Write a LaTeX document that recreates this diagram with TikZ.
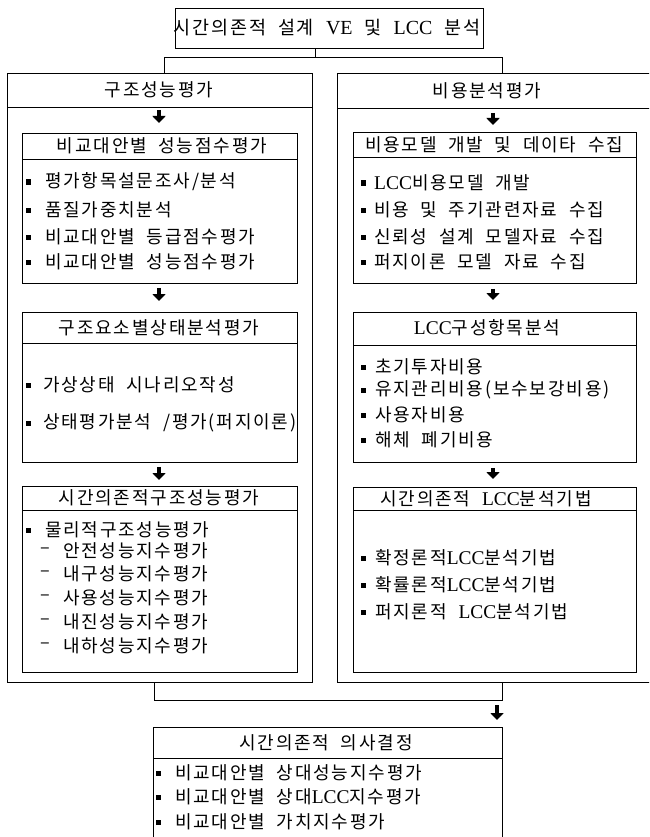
\documentclass[tikz,border=0pt]{standalone}
\usepackage{fontspec}
\setmainfont[LetterSpace=10,WordSpace=2]{Noto Sans CJK KR}
\newfontfamily\lat[Scale=1.08]{Liberation Serif}
\usetikzlibrary{arrows.meta,calc}
\tikzset{
  ln/.style={line width=0.9pt, draw=black},
  boxst/.style={ln, rectangle, inner sep=0pt, anchor=north west},
  txt/.style={inner sep=0pt, font=\fontsize{18}{20}\selectfont, text=black},
  ttl/.style={txt},
  itm/.style={txt, anchor=west},
  bul/.style={rectangle, fill=black, minimum size=5pt, inner sep=0pt},
  bigarrow/.style={line width=3.4pt, -{Triangle[width=13pt,length=7pt]}},
}
\begin{document}
\begin{tikzpicture}[x=1pt,y=-1pt]
\useasboundingbox (0,0) rectangle (649,837);
\clip (0,0) rectangle (649,837);

% top box
\node[boxst, minimum width=308pt, minimum height=40pt] (top) at (175,8) {};
\node[txt, font=\fontsize{18.5}{20}\selectfont] (topt) at (327,28) {시간의존적 설계 {\lat VE} 및 {\lat LCC} 분석};

% frames
\node[boxst, minimum width=305pt, minimum height=609pt] (L) at (7,73) {};
\node[boxst, minimum width=330pt, minimum height=609pt] (R) at (337,73) {};
\draw[ln] (L.west |- 0,107) -- (L.east |- 0,107);
\draw[ln] (R.west |- 0,108) -- (R.east |- 0,108);
\node[ttl] (Lt) at (159,90) {구조성능평가};
\node[ttl] (Rt) at (487,91) {비용분석평가};

% top connectors
\coordinate (tj) at (315,57);
\coordinate (jl) at (164,57);
\coordinate (jr) at (502,57);
\draw[ln] (top.south -| tj) -- (tj);
\draw[ln] (L.north -| jl) -- (jl) -- (jr) -- (R.north -| jr);

% ---------- left inner boxes
\node[boxst, minimum width=275pt, minimum height=150pt] (LB1) at (22,133) {};
\draw[ln] (LB1.west |- 0,159) -- (LB1.east |- 0,159);
\node[ttl] (LB1t) at (162,146) {비교대안별 성능점수평가};
\node[bul] (LB1b1) at (28,182) {}; \node[itm] (LB1i1) at (45,182) {평가항목설문조사/분석};
\node[bul] (LB1b2) at (28,210) {}; \node[itm] (LB1i2) at (45,210) {품질가중치분석};
\node[bul] (LB1b3) at (28,237) {}; \node[itm] (LB1i3) at (45,237) {비교대안별 등급점수평가};
\node[bul] (LB1b4) at (28,262) {}; \node[itm] (LB1i4) at (45,262) {비교대안별 성능점수평가};

\node[boxst, minimum width=275pt, minimum height=150pt] (LB2) at (22,312) {};
\draw[ln] (LB2.west |- 0,343) -- (LB2.east |- 0,343);
\node[ttl] (LB2t) at (159,328) {구조요소별상태분석평가};
\node[bul] (LB2b1) at (28,385) {}; \node[itm] (LB2i1) at (43,385) {가상상태 시나리오작성};
\node[bul] (LB2b2) at (28,423) {}; \node[itm] (LB2i2) at (43,423) {상태평가분석 /평가(퍼지이론)};

\node[boxst, minimum width=275pt, minimum height=186pt] (LB3) at (22,486) {};
\draw[ln] (LB3.west |- 0,510) -- (LB3.east |- 0,510);
\node[ttl] (LB3t) at (159,498) {시간의존적구조성능평가};
\node[bul] (LB3b1) at (28,530) {}; \node[itm] (LB3i1) at (45,530) {물리적구조성능평가};
\node[itm] (LB3d1) at (40,551) {–}; \node[itm] (LB3i2) at (63,551) {안전성능지수평가};
\node[itm] (LB3d2) at (40,574) {–}; \node[itm] (LB3i3) at (63,574) {내구성능지수평가};
\node[itm] (LB3d3) at (40,598) {–}; \node[itm] (LB3i4) at (63,598) {사용성능지수평가};
\node[itm] (LB3d4) at (40,622) {–}; \node[itm] (LB3i5) at (63,622) {내진성능지수평가};
\node[itm] (LB3d5) at (40,646) {–}; \node[itm] (LB3i6) at (63,646) {내하성능지수평가};

% left arrows
\coordinate (La0) at (159,107);
\draw[bigarrow, shorten <=3pt, shorten >=10pt] (La0) -- (LB1.north -| La0);
\draw[bigarrow, shorten <=4pt, shorten >=11pt] (LB1.south -| La0) -- (LB2.north -| La0);
\draw[bigarrow, shorten <=4pt, shorten >=6pt] (LB2.south -| La0) -- (LB3.north -| La0);

% ---------- right inner boxes
\node[boxst, minimum width=283pt, minimum height=151pt] (RB1) at (353,132) {};
\draw[ln] (RB1.west |- 0,157) -- (RB1.east |- 0,157);
\node[ttl] (RB1t) at (494,145) {비용모델 개발 및 데이타 수집};
\node[bul] (RB1b1) at (363,183) {}; \node[itm] (RB1i1) at (374,183) {{\lat LCC}비용모델 개발};
\node[bul] (RB1b2) at (363,210) {}; \node[itm] (RB1i2) at (374,210) {비용 및 주기관련자료 수집};
\node[bul] (RB1b3) at (363,237) {}; \node[itm] (RB1i3) at (374,237) {신뢰성 설계 모델자료 수집};
\node[bul] (RB1b4) at (363,262) {}; \node[itm] (RB1i4) at (374,262) {퍼지이론 모델 자료 수집};

\node[boxst, minimum width=283pt, minimum height=150pt] (RB2) at (353,312) {};
\draw[ln] (RB2.west |- 0,345) -- (RB2.east |- 0,345);
\node[ttl] (RB2t) at (487,328) {{\lat LCC}구성항목분석};
\node[bul] (RB2b1) at (363,367) {}; \node[itm] (RB2i1) at (375,367) {초기투자비용};
\node[bul] (RB2b2) at (363,390) {}; \node[itm] (RB2i2) at (375,390) {유지관리비용(보수보강비용)};
\node[bul] (RB2b3) at (363,415) {}; \node[itm] (RB2i3) at (375,415) {사용자비용};
\node[bul] (RB2b4) at (363,440) {}; \node[itm] (RB2i4) at (375,440) {해체 폐기비용};

\node[boxst, minimum width=283pt, minimum height=185pt] (RB3) at (353,487) {};
\draw[ln] (RB3.west |- 0,510) -- (RB3.east |- 0,510);
\node[ttl] (RB3t) at (486,499) {시간의존적 {\lat LCC}분석기법};
\node[bul] (RB3b1) at (363,558) {}; \node[itm] (RB3i1) at (375,558) {확정론적{\lat LCC}분석기법};
\node[bul] (RB3b2) at (363,585) {}; \node[itm] (RB3i2) at (375,585) {확률론적{\lat LCC}분석기법};
\node[bul] (RB3b3) at (363,612) {}; \node[itm] (RB3i3) at (375,612) {퍼지론적 {\lat LCC}분석기법};

% right arrows
\coordinate (Ra0) at (493,108);
\draw[bigarrow, shorten <=5pt, shorten >=7pt] (Ra0) -- (RB1.north -| Ra0);
\draw[bigarrow, shorten <=5pt, shorten >=12pt] (RB1.south -| Ra0) -- (RB2.north -| Ra0);
\draw[bigarrow, shorten <=5pt, shorten >=8pt] (RB2.south -| Ra0) -- (RB3.north -| Ra0);

% bottom connectors
\coordinate (bl) at (154,700);
\coordinate (br) at (502,700);
\draw[ln] (L.south -| bl) -- (bl) -- (br) -- (R.south -| br);

% bottom box
\node[boxst, minimum width=349pt, minimum height=140pt] (bot) at (153,727) {};
\draw[ln] (bot.west |- 0,758) -- (bot.east |- 0,758);
\node[ttl] (bott) at (326,743) {시간의존적 의사결정};
\node[bul] (botb1) at (158,773) {}; \node[itm] (boti1) at (175,773) {비교대안별 상대성능지수평가};
\node[bul] (botb2) at (158,797) {}; \node[itm] (boti2) at (175,797) {비교대안별 상대{\lat LCC}지수평가};
\node[bul] (botb3) at (158,822) {}; \node[itm] (boti3) at (175,822) {비교대안별 가치지수평가};

\coordinate (ba) at (497,700);
\draw[bigarrow, shorten <=5pt, shorten >=7pt] (ba) -- (bot.north -| ba);
\end{tikzpicture}
\end{document}
